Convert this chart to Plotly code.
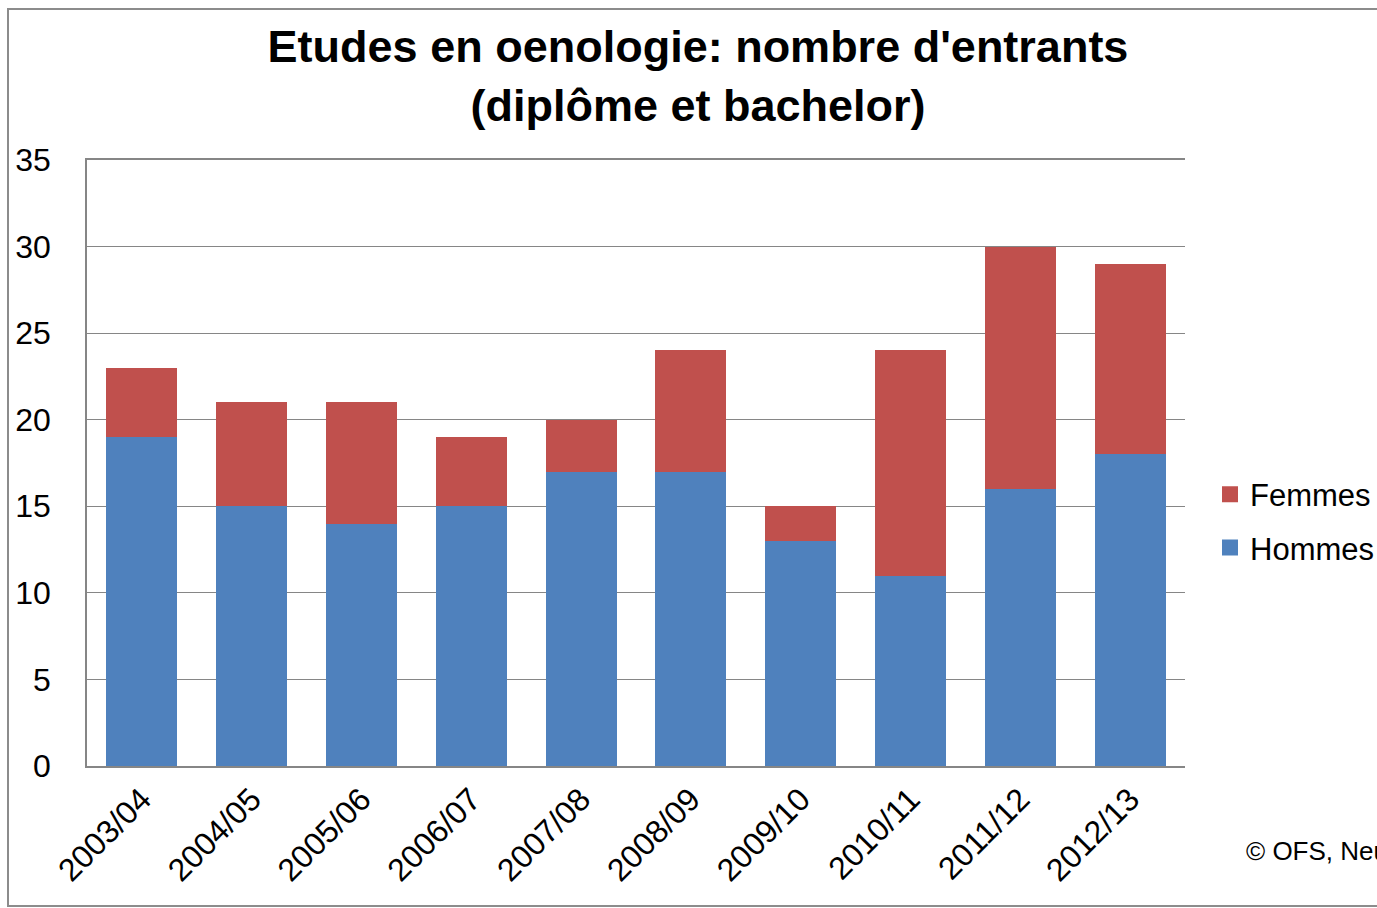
import plotly.graph_objects as go

categories = ["2003/04", "2004/05", "2005/06", "2006/07", "2007/08",
              "2008/09", "2009/10", "2010/11", "2011/12", "2012/13"]
hommes = [19, 15, 14, 15, 17, 17, 13, 11, 16, 18]
femmes = [4, 6, 7, 4, 3, 7, 2, 13, 14, 11]
y_ticks = [0, 5, 10, 15, 20, 25, 30, 35]

W, H = 1377, 908
L, R, T, B = 87, 1185, 160, 766

BLUE, RED = "#4F81BD", "#C0504D"
GRID = "#868686"
narrow = "Liberation Sans Narrow, Arial Narrow, Liberation Sans, Arial"

fig = go.Figure()
fig.add_trace(go.Bar(x=categories, y=hommes, name="Hommes", marker_color=BLUE,
                     marker_line_width=0, showlegend=False))
fig.add_trace(go.Bar(x=categories, y=femmes, name="Femmes", marker_color=RED,
                     marker_line_width=0, showlegend=False))
# legend-only entries with larger square swatches (Femmes listed first, as in the original)
fig.add_trace(go.Scatter(x=[categories[0]], y=[None], mode="markers", name="Femmes",
                         legendgroup="f",
                         marker=dict(symbol="square", size=21, color=RED)))
fig.add_trace(go.Scatter(x=[categories[0]], y=[None], mode="markers", name="Hommes",
                         legendgroup="h",
                         marker=dict(symbol="square", size=21, color=BLUE)))

def px2x(px):
    return (px - L) / (R - L)

def py2y(py):
    return (B - py) / (B - T)

fig.update_layout(
    width=W, height=H,
    margin=dict(l=L, r=W - R, t=T, b=H - B, autoexpand=False),
    barmode="stack", bargap=0.355,
    paper_bgcolor="white", plot_bgcolor="white",
    title=dict(text="<b>Etudes en oenologie: nombre d'entrants<br>(diplôme et bachelor)</b>",
               x=698 / W, xanchor="center", xref="container",
               y=1 - 62 / H, yanchor="middle", yref="container",
               font=dict(family="Liberation Sans, Arial", size=45, color="black")),
    xaxis=dict(range=[-0.5, len(categories) - 0.5], showline=True, linecolor=GRID,
               linewidth=1.5, mirror=True, tickangle=-45,
               ticks="", automargin=False,
               tickfont=dict(family=narrow, size=32, color="black")),
    yaxis=dict(range=[0, 35], tickvals=y_ticks, showgrid=True, gridcolor=GRID,
               gridwidth=1, showline=True, linecolor=GRID, linewidth=1.5,
               zeroline=False, ticks="", ticklabelstandoff=28, automargin=False,
               tickfont=dict(family=narrow, size=32, color="black")),
    legend=dict(traceorder="grouped", xref="container", yref="container",
                x=1210 / W, xanchor="left", y=1 - 521 / H, yanchor="middle",
                itemsizing="trace", bgcolor="rgba(0,0,0,0)",
                font=dict(family=narrow, size=31, color="black"), tracegroupgap=10),
    showlegend=True,
)

fig.add_annotation(text="© OFS, Neuchâtel", xref="paper", yref="paper",
                   x=px2x(1244), y=py2y(851), xanchor="left", yanchor="middle",
                   showarrow=False,
                   font=dict(family="Liberation Sans, Arial", size=26, color="black"))

fig.add_shape(type="rect", xref="paper", yref="paper",
              x0=px2x(8), x1=px2x(1420), y0=py2y(906), y1=py2y(9),
              line=dict(color="#8C8C8C", width=2), fillcolor="rgba(0,0,0,0)", layer="below")

fig.write_html("out.html", config={"displayModeBar": False},
               post_script="document.body.style.margin='0';")
